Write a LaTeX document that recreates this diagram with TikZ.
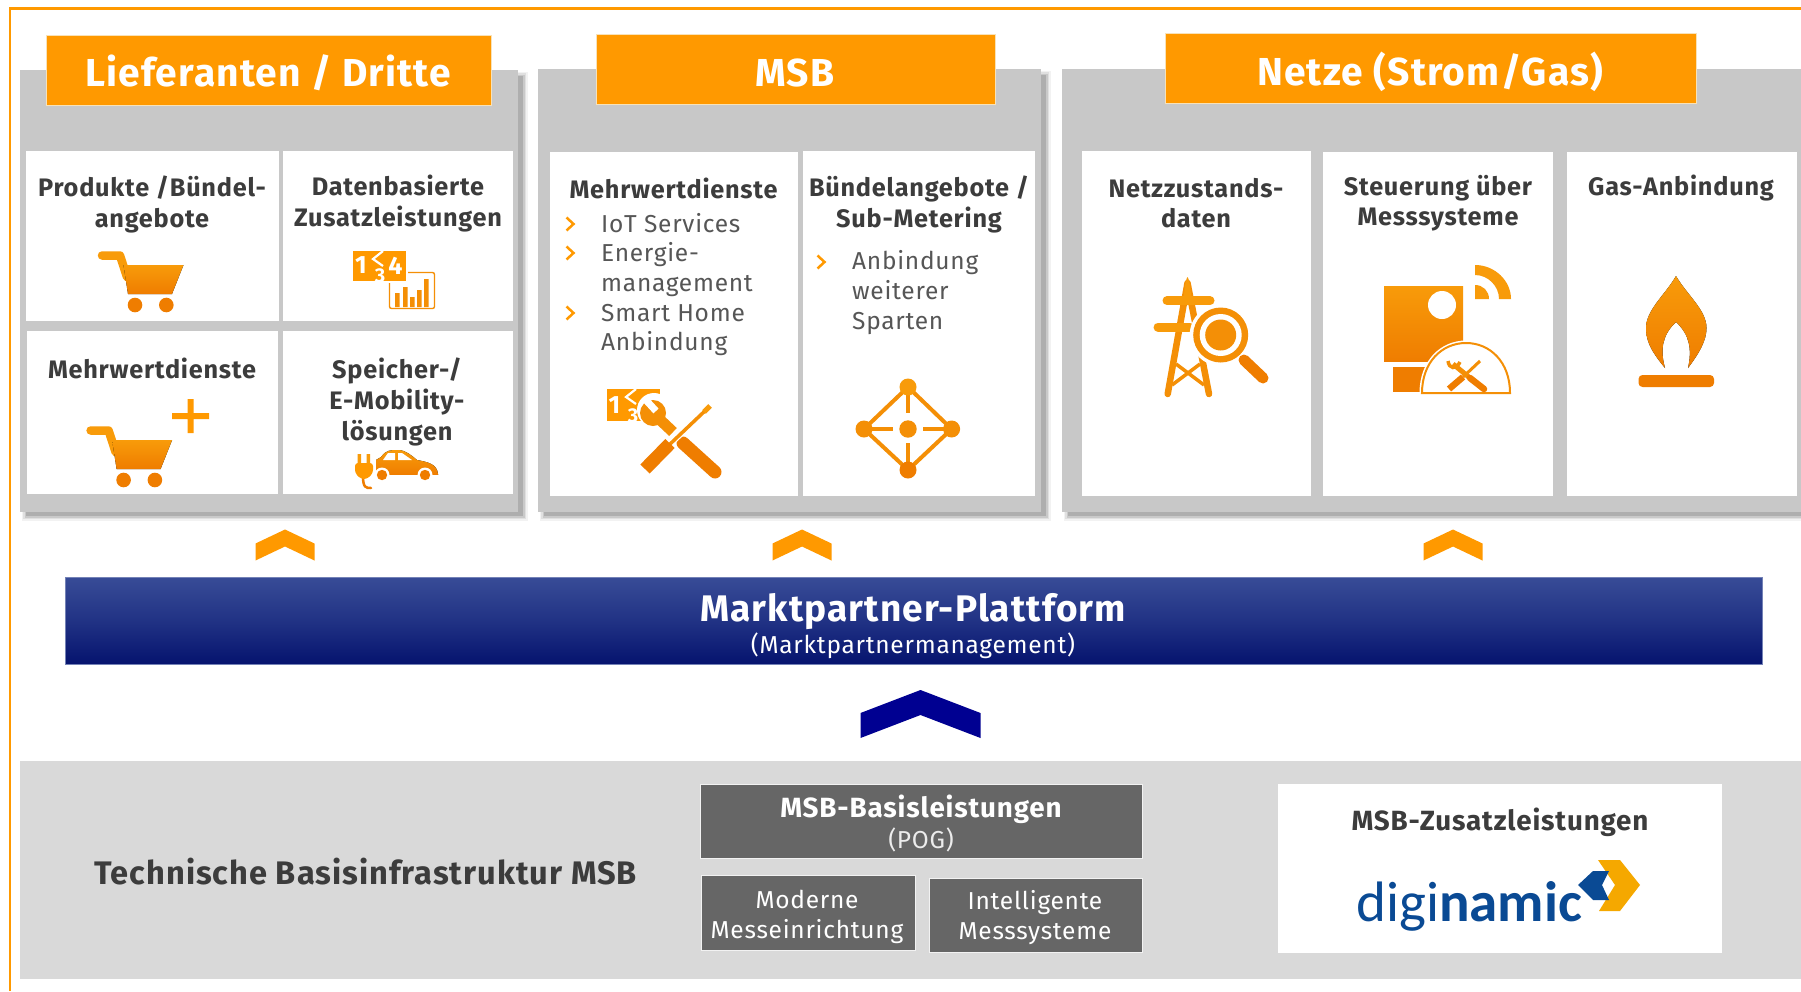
\documentclass[tikz,border=0pt]{standalone}
\usepackage{fontspec}
\setmainfont{Fira Sans}[LetterSpace=3]
\newfontfamily\logofont{Carlito}
\definecolor{hdr}{HTML}{FF9900}
\definecolor{hdredge}{HTML}{F8E2B8}
\definecolor{panelgray}{HTML}{C8C8C8}
\definecolor{bandgray}{HTML}{D9D9D9}
\definecolor{boxgray}{HTML}{666666}
\definecolor{headtext}{HTML}{3C3C3C}
\definecolor{bodytext}{HTML}{565656}
\definecolor{oT}{HTML}{F89B0A}
\definecolor{oM}{HTML}{F48F06}
\definecolor{oB}{HTML}{EF7D00}
\definecolor{barT}{HTML}{384C97}
\definecolor{barB}{HTML}{05136E}
\definecolor{navy}{HTML}{000091}
\definecolor{logoblue}{HTML}{0A4A94}
\definecolor{logoorange}{HTML}{F5A800}
\tikzset{
  cell/.style={fill=white,draw=none},
  header/.style={fill=hdr,draw=hdredge,line width=0.8pt},
  graybox/.style={fill=boxgray,draw=white!90!gray,line width=0.8pt},
  ttl/.style={font=\bfseries\fontsize{39}{44}\selectfont,text=white,inner sep=0pt},
  head/.style={font=\bfseries\fontsize{25.3}{31}\selectfont,text=headtext,align=center,inner sep=0pt},
  body/.style={font=\fontsize{24.5}{30}\selectfont,text=bodytext,inner sep=0pt,anchor=base west},
  bul/.style={draw=hdr,line width=2.5pt,fill=none},
  grad/.style={top color=oT,bottom color=oB,draw=none},
  wtext/.style={font=\fontsize{24.5}{30}\selectfont,text=white,align=center,inner sep=0pt},
  chev/.style={fill=hdr,draw=none},
}
\newcommand\panelbox[4]{%
  \foreach \d/\op in {0/0.13,1.5/0.1,3/0.07,4.5/0.05}{
    \fill[black,opacity=\op] (#1+6-\d,#2+6-\d) rectangle (#3+5+\d,#4+4+\d);
  }
  \fill[panelgray] (#1,#2) rectangle (#3,#4);
}
\newcommand\cartIcon[2]{%
  \begin{scope}[shift={(#1,#2)}]
    \draw[oT,line width=8.5pt,line cap=round,line join=round] (102,255.5) -- (120,255.5) -- (127,277);
    \fill[grad] (123.5,265) -- (183.5,265) -- (172,294) -- (128,294) -- cycle;
    \fill[oB] (135,305) circle[radius=7.3] (166.3,305) circle[radius=7.3];
  \end{scope}
}
\newcommand\chevup[7]{% style apexx apexy halfw sidey-top sidey-bot notchy
  \fill[#1] (#2,#3) -- (#2+#4,#5) -- (#2+#4,#6) -- (#2,#7) -- (#2-#4,#6) -- (#2-#4,#5) -- cycle;
}
\newcommand\bull[2]{\draw[bul] (#1-3.5,#2-6.5) -- (#1+3.5,#2) -- (#1-3.5,#2+6.5);}
\begin{document}
\begin{tikzpicture}[x=1pt,y=-1pt]
\useasboundingbox (0,0) rectangle (1801,991);
\fill[white] (0,0) rectangle (1801,991);
% frame
\draw[hdr,line width=2.5pt] (10,991) -- (10,8.5) -- (1801,8.5);
% bottom band
\fill[bandgray] (20,761) rectangle (1801,979);
% panels
\panelbox{20}{70}{518}{512}
\panelbox{538}{69}{1041}{512}
\panelbox{1062}{69}{1810}{512}
% headers
\draw[header] (46,35.5) rectangle (491,105);
\node[ttl] (t1) at (268,73) {Lieferanten / Dritte};
\draw[header] (596.5,34) rectangle (995,104);
\node[ttl] (t2) at (795,73) {MSB};
\draw[header] (1165,33) rectangle (1696,103);
\node[ttl] (t3) at (1430,72) {Netze (Strom/Gas)};
% cells panel 1
\fill[cell] (25.5,151) rectangle (279,321);
\fill[cell] (283,151) rectangle (513,321);
\fill[cell] (26.5,331) rectangle (278,494);
\fill[cell] (283,331) rectangle (513,494);
\node[head] (a) at (152,204) {Produkte /Bündel-\\angebote};
\node[head] (b) at (398,204) {Datenbasierte\\Zusatzleistungen};
\node[head] (c) at (152,368) {Mehrwertdienste};
\node[head] (d) at (397,402) {Speicher-/\\E-Mobility-\\lösungen};
% cells panel 2
\fill[cell] (550,152) rectangle (798,496);
\fill[cell] (803,151) rectangle (1035,496);
\node[head] (e) at (673.5,188) {Mehrwertdienste};
\node[head] (f) at (919,204) {Bündelangebote /\\Sub-Metering};
\bull{570}{224}\bull{570}{253}\bull{570}{313}
\node[body] (g1) at (601,232) {IoT Services};
\node[body] (g2) at (601,261.5) {Energie-};
\node[body] (g3) at (601,291) {management};
\node[body] (g4) at (601,321) {Smart Home};
\node[body] (g5) at (601,350.5) {Anbindung};
\bull{821}{262}
\node[body] (h1) at (852,269.5) {Anbindung};
\node[body] (h2) at (852,299.5) {weiterer};
\node[body] (h3) at (852,329) {Sparten};
% cells panel 3
\fill[cell] (1082,151) rectangle (1311,496);
\fill[cell] (1323,152) rectangle (1553,496);
\fill[cell] (1567,152) rectangle (1797,496);
\node[head,font=\bfseries\fontsize{25.3}{30}\selectfont] (i) at (1196,203) {Netzzustands-\\daten};
\node[head,font=\bfseries\fontsize{25.3}{30}\selectfont] (j) at (1438,203) {Steuerung über\\Messsysteme};
\node[head] (k) at (1681,188.5) {Gas-Anbindung};
% chevrons
\chevup{chev}{285}{529.5}{29.5}{543.5}{560.5}{546.5}
\chevup{chev}{802}{529.5}{29.5}{543.5}{560.5}{546.5}
\chevup{chev}{1453}{529.5}{29.5}{543.5}{560.5}{546.5}
\chevup{navy}{920.5}{690}{60}{713}{738}{715}
% bar
\shade[top color=barT,bottom color=barB,middle color=barT!55!barB] (65,577) rectangle (1762,664.5);
\draw[barT!70!white,line width=0.6pt] (65,577) rectangle (1762,664.5);
\node[font=\bfseries\fontsize{37}{40}\selectfont,text=white,inner sep=0pt] (mp) at (913,612) {Marktpartner-Plattform};
\node[font=\fontsize{24.5}{28}\selectfont,text=white,inner sep=0pt] (mm) at (913,646) {(Marktpartnermanagement)};
% bottom
\node[font=\bfseries\fontsize{32.6}{36}\selectfont,text=headtext,inner sep=0pt] (tb) at (365.5,872) {Technische Basisinfrastruktur MSB};
\draw[graybox] (700,784) rectangle (1142,858);
\node[font=\bfseries\fontsize{27.8}{30}\selectfont,text=white,inner sep=0pt] (ba) at (921,809) {MSB-Basisleistungen};
\node[wtext,text=white!85!gray] (pog) at (921,840) {(POG)};
\draw[graybox] (701,875) rectangle (915,950);
\node[wtext] (mo) at (807,916.5) {Moderne\\Messeinrichtung};
\draw[graybox] (929,878) rectangle (1142,952);
\node[wtext] (in) at (1035,917.5) {Intelligente\\Messsysteme};
\fill[cell] (1278,783.5) rectangle (1722,953);
\node[head,font=\bfseries\fontsize{27.8}{30}\selectfont] (zu) at (1500,822) {MSB-Zusatzleistungen};
\node[font=\logofont\fontsize{57}{60}\selectfont,text=logoblue,inner sep=0pt,anchor=base west] (logo) at (1356,921) {digi\textbf{namic}};
\fill[logoorange] (1598,860) -- (1620,860) -- (1640,885) -- (1620,911) -- (1599,911) -- (1615,885) -- cycle;
\fill[logoblue] (1578,885) -- (1593,871) -- (1609,871) -- (1602,885) -- (1609,900) -- (1593,900) -- cycle;
% --- icons ---
\cartIcon{0}{0}
\cartIcon{-11.4}{175}
\fill[hdr] (172,413) rectangle (209,419) (187.5,399) rectangle (193.5,433);
% chart + numbers
\draw[oM,line width=1.4pt,rounded corners=2pt] (389.5,272.5) rectangle (434.5,308.5);
\fill[oM] (395,293) rectangle (399.5,307) (403,287) rectangle (407.5,307) (410,297) rectangle (414.5,307) (417,290) rectangle (421.5,307) (424,279) rectangle (428.5,307);
\fill[white] (351,249) rectangle (408,283);
\fill[hdr] (353,251) rectangle (406,281);
\node[font=\bfseries\fontsize{25}{25}\selectfont,text=white,inner sep=0pt] (n1) at (361,265.5) {1};
\node[font=\bfseries\fontsize{20}{20}\selectfont,text=white,inner sep=0pt] (n3) at (380,276) {3};
\node[font=\bfseries\fontsize{25}{25}\selectfont,text=white,inner sep=0pt] (n4) at (395.5,265.5) {4};
\draw[white,line width=2.2pt] (383,251) -- (373,259) -- (383,266);
\fill[white] (372,281) rectangle (387,284);
% EV
\draw[oB,line width=2.5pt,line cap=round] (363,476) .. controls (363,488) and (366,488) .. (371,488);
\fill[oT] (357.5,454) rectangle (361,464) (366.5,454) rectangle (370,464);
\fill[hdr,rounded corners=3pt] (355,463) -- (373,463) -- (373,473) -- (367,479) -- (361,479) -- (355,473) -- cycle;
\fill[grad] (376,460) -- (381,457) .. controls (386,450) and (390,450) .. (398,450) .. controls (406,450) and (412,456) .. (417,460) .. controls (428,462) and (437,464) .. (438,474) -- (438,475) -- (376,475) -- cycle;
\fill[white] (383,460) -- (388,453) -- (395,453) -- (395,460) -- cycle;
\fill[white] (398,453) -- (402,453) -- (412,460) -- (398,460) -- cycle;
\fill[white] (382,475) circle[radius=7.5] (425,475) circle[radius=7.5];
\fill[white] (374,475) rectangle (440,478);
\fill[oB] (382,475) circle[radius=5.2] (425,475) circle[radius=5.2];
% tools icon
\fill[hdr] (607,389) rectangle (660,421);
\node[font=\bfseries\fontsize{25}{25}\selectfont,text=white,inner sep=0pt] (m1) at (614.5,405) {1};
\node[font=\bfseries\fontsize{20}{20}\selectfont,text=white,inner sep=0pt] (m3) at (633,416) {3};
\draw[white,line width=2.2pt] (636,389) -- (626,397) -- (636,404);
\fill[white] (654,410) circle[radius=17];
\fill[oM] (653,413) circle[radius=13];
\draw[oM,line width=11pt] (655,415) -- (673,432);
\draw[white,line width=7pt] (644,398) -- (656,411);
\draw[oB,line width=13pt,line cap=round] (683,443) -- (715,472);
\draw[white,line width=6pt] (712,404) -- (667,447);
\draw[oM,line width=3.5pt] (708,408) -- (668,446);
\draw[oT,line width=5pt] (710,406) -- (704,412);
\draw[oB,line width=13pt] (670,443.5) -- (645,469);
% network
\draw[oM,line width=4pt] (908,387) -- (951.6,429) -- (908,470) -- (864,429) -- cycle;
\draw[oM,line width=3.5pt] (908,387) -- (908,413) (908,443) -- (908,470) (864,429) -- (893.4,429) (923,429) -- (951.6,429);
\fill[oT] (908,387) circle[radius=8.5];
\fill[oM] (864,429) circle[radius=8.5] (951.6,429) circle[radius=8.5] (908,429) circle[radius=8.7];
\fill[oB] (908,470) circle[radius=8.5];
% tower
\draw[oM,line width=6.5pt,line cap=round] (1187.5,283) -- (1167.7,394) (1187.5,283) -- (1209,394);
\fill[oT] (1187.5,277) .. controls (1185,280) and (1184,295) .. (1183,305) -- (1192,305) .. controls (1191,295) and (1190,280) .. (1187.5,277) -- cycle;
\draw[oT,line width=9pt,line cap=round] (1167,300.7) -- (1210,300.7) (1158,327) -- (1190,327);
\draw[oM,line width=3.5pt] (1176,364) -- (1204,385) (1200,364) -- (1172,385);
\fill[white] (1220.7,335) circle[radius=31];
\fill[oM] (1220.7,335) circle[radius=27.5];
\fill[white] (1220.7,335) circle[radius=21];
\fill[oM] (1220.7,335) circle[radius=15.5];
\draw[oB,line width=11pt,line cap=round] (1244,360) -- (1263,378);
% meter
\fill[grad] (1384,286) rectangle (1463,361);
\fill[white] (1442,305) circle[radius=14];
\fill[oB] (1393,367) rectangle (1426,392);
\draw[white,line width=5pt] (1422,393) .. controls (1422,362) and (1442,343) .. (1466,343) .. controls (1490,343) and (1510,362) .. (1510,393);
\draw[oM,fill=white,line width=2pt] (1422,393) .. controls (1422,362) and (1442,343) .. (1466,343) .. controls (1490,343) and (1510,362) .. (1510,393) -- cycle;
\fill[oT] (1475,265) .. controls (1495,265) and (1511,281) .. (1511,299) -- (1499,299) .. controls (1499,286) and (1488,275) .. (1475,275) -- cycle;
\fill[oT] (1475,285) .. controls (1483,285) and (1489,291) .. (1489,299) -- (1475,299) -- cycle;
\draw[oM,line width=3pt] (1480,361) -- (1463,377);
\draw[oB,line width=6.5pt] (1463,377) -- (1449,389);
\draw[oM,line width=5pt] (1453,364) -- (1470,378);
\draw[oB,line width=6.5pt,line cap=round] (1470,378) -- (1484,389);
\draw[oM,line width=3.5pt] (1448,361) .. controls (1449,369) and (1456,370) .. (1460,362);
% flame
\fill[grad] (1665,368) .. controls (1650,350) and (1646,340) .. (1646,328) .. controls (1646,310) and (1665,295) .. (1676,276) .. controls (1687,295) and (1706.5,310) .. (1706.5,328) .. controls (1706.5,340) and (1700,352) .. (1688,368) .. controls (1692,350) and (1690,335) .. (1676,322) .. controls (1662,335) and (1660,350) .. (1665,368) -- cycle;
\fill[oB,rounded corners=4pt] (1638.5,375) rectangle (1714,387);
\end{tikzpicture}
\end{document}
